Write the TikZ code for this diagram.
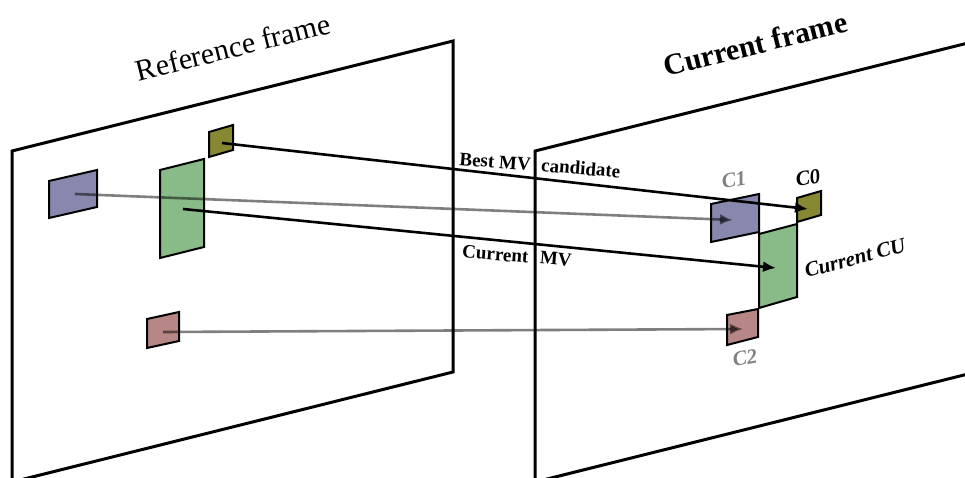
\documentclass[tikz,border=0pt]{standalone}
\usepackage{fontspec}
\setmainfont{Liberation Serif}
\usetikzlibrary{arrows.meta}

\definecolor{cublue}{RGB}{136,136,174}
\definecolor{cugreen}{RGB}{136,187,136}
\definecolor{cuolive}{RGB}{136,136,51}
\definecolor{cupink}{RGB}{183,134,134}

\tikzset{
  frame/.style={line width=3pt},
  cubox/.style={draw, line width=2pt},
  mvarrow/.style={line width=2.6pt, -{Latex[length=13pt,width=11pt]}},
  candarrow/.style={mvarrow, opacity=0.5},
  mvlabel/.style={font=\bfseries\fontsize{19}{22}\selectfont},
  cuname/.style={font=\bfseries\itshape\fontsize{21}{24}\selectfont}
}

\begin{document}
\begin{tikzpicture}[x=1pt,y=-1pt]
            \clip (0,0) rectangle (965,478);
            % frames
            \draw[frame] (12,151) --(453,41) --(453,372) --(12,482) --cycle;
            \draw[frame] (535,151) --(976,41) --(976,372) --(535,482) --cycle;
            \node[rotate=14, font=\fontsize{30}{36}\selectfont] (reftitle) at (233,47) {Reference frame};
            \node[rotate=14, font=\bfseries\fontsize{30}{36}\selectfont] (curtitle) at (755,44) {Current frame};
            % blocks in the reference frame
            \draw[cubox, fill=cublue] (49,181) --(97,170) --(97,207) --(49,218) --cycle;
            \draw[cubox, fill=cugreen] (160,170) --(204,159) --(204,247) --(160,258) --cycle;
            \draw[cubox, fill=cuolive] (209,132) --(233,125) --(233,150) --(209,157) --cycle;
            \draw[cubox, fill=cupink] (147,319) --(179,312) --(179,341) --(147,348) --cycle;
            \coordinate (refB) at (75,194);
            \coordinate (refG) at (183,209);
            \coordinate (refO) at (222,143);
            \coordinate (refP) at (163,332);
            % blocks in the current frame
            \draw[cubox, fill=cugreen] (759,234) --(797,224) --(797,297) --(759,308) --cycle;
            \draw[cubox, fill=cublue] (711,204) --(759,194) --(759,232) --(711,242) --cycle;
            \draw[cubox, fill=cuolive] (797,198) --(821,191) --(821,215) --(797,222) --cycle;
            \draw[cubox, fill=cupink] (727,315) --(758,309) --(758,337) --(727,345) --cycle;
            \coordinate (curB) at (733,220);
            \coordinate (curG) at (776,268);
            \coordinate (curO) at (808,209);
            \coordinate (curP) at (743,329);
            % motion vectors
            \draw[candarrow] (refB) --(curB);
            \draw[candarrow] (refP) --(curP);
            \draw[mvarrow] (refO) --(curO);
            \draw[mvarrow] (refG) --(curG);
            \node[mvlabel, rotate=-4.5] (bestlbl) at (540,165) {Best MV\hspace{6pt} candidate};
            \node[mvlabel, rotate=-4.5] (curlbl) at (517,256) {Current\hspace{7pt} MV};
            \node[cuname, gray, rotate=10] (c1lbl) at (734,180) {C1};
            \node[cuname, rotate=10] (c0lbl) at (808,178) {C0};
            \node[cuname, gray, rotate=10] (c2lbl) at (745,358) {C2};
            \node[cuname, rotate=15] (culbl) at (855,258) {Current CU};
        \end{tikzpicture}
\end{document}
